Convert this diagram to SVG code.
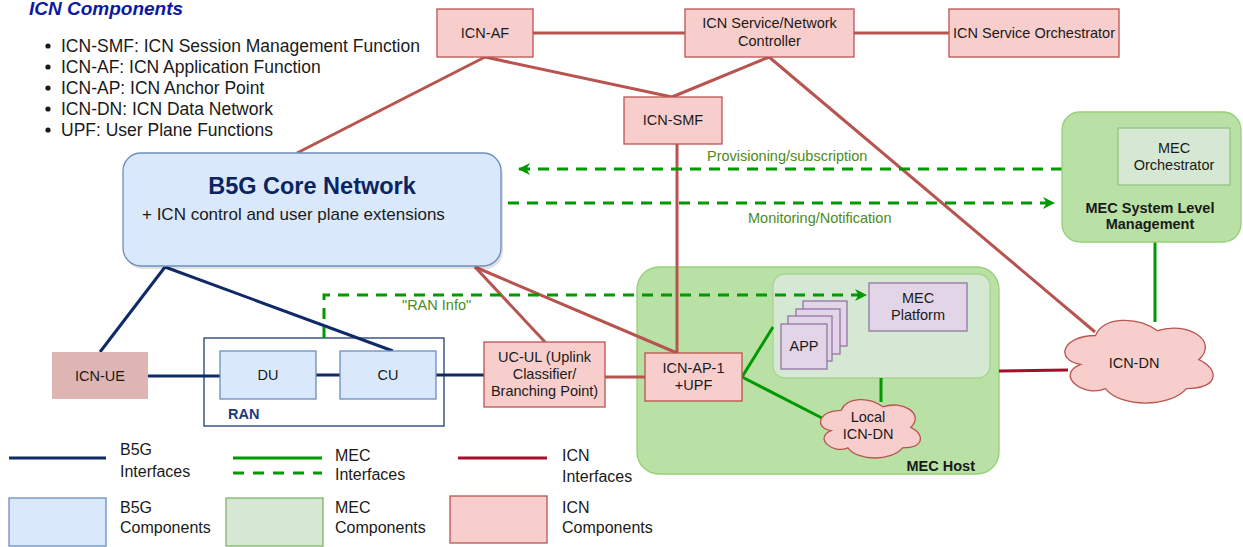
<svg xmlns="http://www.w3.org/2000/svg" width="1243" height="547" viewBox="0 0 1243 547">
<style>
text{font-family:"Liberation Sans",Arial,sans-serif;fill:#1a1a1a}
.n{font-size:14.5px;text-anchor:middle}
.icn{fill:#f8cecc;stroke:#b85450;stroke-width:1.3}
.b5g{fill:#dae8fc;stroke:#6c8ebf;stroke-width:1.3}
.mec{fill:#d5e8d4;stroke:#97c47f;stroke-width:1.3}
.mecd{fill:#b9e0a5;stroke:#97d077;stroke-width:1.3}
.pur{fill:#e1d5e7;stroke:#9673a6;stroke-width:1.3}
.lr{stroke:#b85450;stroke-width:3;fill:none}
.lc{stroke:#a50f2d;stroke-width:3;fill:none}
.lb{stroke:#0f2a66;stroke-width:3;fill:none}
.lg{stroke:#009900;stroke-width:3;fill:none}
.ld{stroke:#009900;stroke-width:3;fill:none;stroke-dasharray:11 8}
.gl{font-size:14.5px;fill:#4d8a1a}
.lt{font-size:16px}
.bt{font-size:17.5px}
</style>
<defs>
<marker id="ah" viewBox="0 0 12 12" refX="11" refY="6" markerWidth="12" markerHeight="12" markerUnits="userSpaceOnUse" orient="auto">
<path d="M0,0 L12,6 L0,12 L3.5,6 Z" fill="#009900"/>
</marker>
</defs>

<!-- title and bullets -->
<g id="legend-title">
<text x="29" y="15" style="font-size:19px;font-weight:bold;font-style:italic;fill:#0e1a9e">ICN Components</text>
<circle cx="48" cy="46" r="2.6" fill="#1a1a1a"/>
<circle cx="48" cy="67" r="2.6" fill="#1a1a1a"/>
<circle cx="48" cy="88" r="2.6" fill="#1a1a1a"/>
<circle cx="48" cy="109" r="2.6" fill="#1a1a1a"/>
<circle cx="48" cy="130" r="2.6" fill="#1a1a1a"/>
<text class="bt" x="61" y="52">ICN-SMF: ICN Session Management Function</text>
<text class="bt" x="61" y="73">ICN-AF: ICN Application Function</text>
<text class="bt" x="61" y="94">ICN-AP: ICN Anchor Point</text>
<text class="bt" x="61" y="115">ICN-DN: ICN Data Network</text>
<text class="bt" x="61" y="136">UPF: User Plane Functions</text>
</g>

<!-- containers -->
<g id="mec-host">
<rect x="637" y="267" width="362" height="207" rx="22" class="mecd"/>
<rect x="773" y="274" width="217" height="104" rx="12" fill="#d5e8d4" stroke="#a9d48f" stroke-width="1.3"/>
<text x="975" y="471" style="font-size:14.5px;font-weight:bold;text-anchor:end">MEC Host</text>
</g>
<g id="ran">
<rect x="204" y="338" width="240" height="88" fill="#ffffff" stroke="#1f3b78" stroke-width="1.3"/>
<text x="228" y="419" style="font-size:14.5px;font-weight:bold;fill:#1f3b78">RAN</text>
</g>

<!-- connectors -->
<g id="connectors">
<line class="lr" x1="533" y1="33" x2="685" y2="33"/>
<line class="lr" x1="854" y1="33" x2="949" y2="33"/>
<line class="lr" x1="485" y1="57" x2="297" y2="153"/>
<line class="lr" x1="485" y1="57" x2="672" y2="97"/>
<line class="lr" x1="769" y1="57" x2="672" y2="97"/>
<line class="lr" x1="769" y1="57" x2="1095" y2="332"/>
<line class="lr" x1="677" y1="144" x2="677" y2="353"/>
<line class="lr" x1="475" y1="267" x2="545" y2="342"/>
<line class="lr" x1="475" y1="267" x2="677" y2="353"/>
<line class="lr" x1="605" y1="377" x2="645" y2="377"/>
<line class="lc" x1="999" y1="371" x2="1068" y2="370"/>
<line class="lb" x1="165" y1="267" x2="100" y2="352"/>
<line class="lb" x1="165" y1="267" x2="393" y2="351"/>
<line class="lb" x1="148" y1="376" x2="220" y2="376"/>
<line class="lb" x1="316" y1="375" x2="340" y2="375"/>
<line class="lb" x1="436" y1="375" x2="484" y2="375"/>
<line class="lg" x1="742" y1="377" x2="773" y2="327"/>
<line class="lg" x1="742" y1="377" x2="822" y2="418"/>
<line class="lg" x1="881" y1="378" x2="881" y2="402"/>
<line class="lg" x1="1155" y1="242" x2="1155" y2="322"/>
<line class="ld" x1="1062" y1="169" x2="519" y2="169" marker-end="url(#ah)"/>
<line class="ld" x1="508" y1="203" x2="1054" y2="203" marker-end="url(#ah)"/>
<polyline class="ld" points="324,338 324,295 866,295" marker-end="url(#ah)"/>
<text class="gl" x="707" y="161">Provisioning/subscription</text>
<text class="gl" x="748" y="223">Monitoring/Notification</text>
<text class="gl" x="402" y="310">"RAN Info"</text>
</g>

<!-- nodes -->
<g id="icn-af"><rect x="437" y="9" width="96" height="48" class="icn"/><text class="n" x="485" y="38">ICN-AF</text></g>
<g id="icn-controller"><rect x="685" y="9" width="169" height="48" class="icn"/><text class="n" x="769.5" y="28">ICN Service/Network</text><text class="n" x="769.5" y="46">Controller</text></g>
<g id="icn-orchestrator"><rect x="949" y="9" width="170" height="48" class="icn"/><text class="n" x="1034" y="38">ICN Service Orchestrator</text></g>
<g id="icn-smf"><rect x="624" y="97" width="98" height="47" class="icn"/><text class="n" x="673" y="125">ICN-SMF</text></g>

<g id="b5g-core">
<rect x="125" y="156" width="378" height="113" rx="18" fill="#000" opacity="0.12"/>
<rect x="123" y="153" width="378" height="113" rx="18" class="b5g"/>
<text x="312" y="194" style="font-size:23.5px;font-weight:bold;text-anchor:middle;fill:#0b2461">B5G Core Network</text>
<text x="142" y="220" style="font-size:17px">+ ICN control and user plane extensions</text>
</g>

<g id="mec-system">
<rect x="1062" y="112" width="179" height="130" rx="18" class="mecd"/>
<rect x="1118" y="128" width="112" height="57" class="mec"/>
<text class="n" x="1174" y="153">MEC</text>
<text class="n" x="1174" y="170">Orchestrator</text>
<text class="n" x="1150" y="213" style="font-weight:bold">MEC System Level</text>
<text class="n" x="1150" y="229" style="font-weight:bold">Management</text>
</g>

<g id="icn-ue"><rect x="52" y="352" width="96" height="47" fill="#deb5b3"/><text class="n" x="100" y="381">ICN-UE</text></g>
<g id="du"><rect x="220" y="351" width="96" height="48" class="b5g"/><text class="n" x="268" y="380">DU</text></g>
<g id="cu"><rect x="340" y="351" width="96" height="48" class="b5g"/><text class="n" x="388" y="380">CU</text></g>
<g id="uc-ul"><rect x="484" y="342" width="121" height="65" class="icn"/><text class="n" x="544.5" y="362">UC-UL (Uplink</text><text class="n" x="544.5" y="379">Classifier/</text><text class="n" x="544.5" y="396">Branching Point)</text></g>
<g id="icn-ap-1"><rect x="645" y="353" width="97" height="48" class="icn"/><text class="n" x="693.5" y="373">ICN-AP-1</text><text class="n" x="693.5" y="390">+UPF</text></g>
<g id="mec-platform"><rect x="869" y="283" width="98" height="48" class="pur"/><text class="n" x="918" y="303">MEC</text><text class="n" x="918" y="320">Platform</text></g>
<g id="app">
<rect x="803" y="301" width="44" height="45" class="pur"/>
<rect x="796" y="309" width="44" height="45" class="pur"/>
<rect x="788" y="316" width="44" height="45" class="pur"/>
<rect x="781" y="324" width="46" height="45" class="pur"/>
<text class="n" x="804" y="351">APP</text>
</g>
<g id="local-icn-dn">
<path d="M841.2,410.3 C818.9,410.3 813.3,427.3 831.1,430.7 C813.3,438.2 833.4,454.6 847.9,447.8 C857.9,461.4 891.4,461.4 902.5,447.8 C924.8,447.8 924.8,434.1 910.9,427.3 C924.8,413.7 902.5,400.0 883.0,406.8 C869.1,396.6 846.8,396.6 841.2,410.3 Z" class="icn"/>
<text class="n" x="868" y="422">Local</text><text class="n" x="868" y="439">ICN-DN</text>
</g>
<g id="icn-dn">
<path d="M1095.5,335.5 C1062.4,335.5 1054.1,359.6 1080.6,364.4 C1054.1,375.0 1083.9,398.2 1105.4,388.6 C1120.3,407.9 1169.9,407.9 1186.5,388.6 C1219.6,388.6 1219.6,369.3 1198.9,359.6 C1219.6,340.3 1186.5,321.0 1157.5,330.7 C1136.9,316.2 1103.8,316.2 1095.5,335.5 Z" class="icn"/>
<text class="n" x="1134" y="368">ICN-DN</text>
</g>

<!-- legend -->
<g id="legend">
<line class="lb" x1="9" y1="458" x2="106" y2="458"/>
<text class="lt" x="120" y="455">B5G</text><text class="lt" x="120" y="477">Interfaces</text>
<line class="lg" x1="233" y1="458" x2="322" y2="458"/>
<line class="ld" x1="233" y1="473" x2="322" y2="473" style="stroke-dasharray:11 9"/>
<text class="lt" x="335" y="461">MEC</text><text class="lt" x="335" y="480">Interfaces</text>
<line class="lc" x1="458" y1="458" x2="547" y2="458"/>
<text class="lt" x="562" y="461">ICN</text><text class="lt" x="562" y="482">Interfaces</text>
<rect x="9" y="498" width="97" height="48" class="b5g"/>
<text class="lt" x="120" y="513">B5G</text><text class="lt" x="120" y="533">Components</text>
<rect x="226" y="498" width="97" height="48" fill="#d5e8d4" stroke="#82b366" stroke-width="1.3"/>
<text class="lt" x="335" y="513">MEC</text><text class="lt" x="335" y="533">Components</text>
<rect x="450" y="496" width="97" height="47" class="icn"/>
<text class="lt" x="562" y="513">ICN</text><text class="lt" x="562" y="533">Components</text>
</g>
</svg>
